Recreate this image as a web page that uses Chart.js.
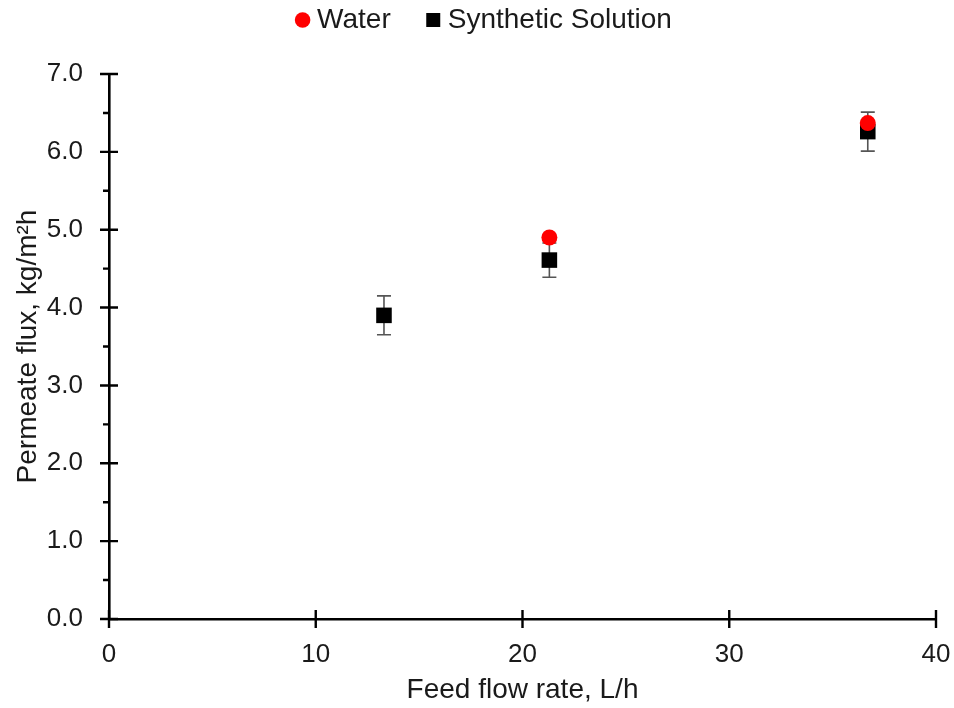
<!DOCTYPE html>
<html>
<head>
<meta charset="utf-8">
<script src="https://cdn.jsdelivr.net/npm/chart.js@4.4.1/dist/chart.umd.min.js"></script>
<style>
html,body{margin:0;padding:0;background:#fff;}
#wrap{width:954px;height:708px;}
</style>
</head>
<body>
<div id="wrap"><canvas id="c" width="954" height="708"></canvas></div>
<script>
// Data
const waterX = [21.3, 36.7];
const waterY = [4.90, 6.37];
const synthX = [13.3, 21.3, 36.7];
const synthY = [3.90, 4.61, 6.26];
const synthErr = [0.25, 0.22, 0.25];
const xTicks = [0, 10, 20, 30, 40];
const yTicks = [0, 1, 2, 3, 4, 5, 6, 7];
const yMinorTicks = [0.5, 1.5, 2.5, 3.5, 4.5, 5.5, 6.5];

const FONT = 'Liberation Sans, Arial, sans-serif';
const TXT = '#1a1a1a';
const LEGEND_H = 74;
const LEGEND_TOP = -36;
const LEGEND_DX = 10;

const errorBarPlugin = {
  id: 'errorBars',
  beforeDatasetsDraw(chart) {
    const ctx = chart.ctx;
    const xs = chart.scales.x, ys = chart.scales.y;
    ctx.save();
    ctx.strokeStyle = '#555';
    ctx.lineWidth = 1.6;
    synthX.forEach((xv, i) => {
      const px = xs.getPixelForValue(xv);
      const top = ys.getPixelForValue(synthY[i] + synthErr[i]);
      const bot = ys.getPixelForValue(synthY[i] - synthErr[i]);
      ctx.beginPath();
      ctx.moveTo(px, top); ctx.lineTo(px, bot);
      ctx.moveTo(px - 7, top); ctx.lineTo(px + 7, top);
      ctx.moveTo(px - 7, bot); ctx.lineTo(px + 7, bot);
      ctx.stroke();
    });
    ctx.restore();
  }
};

const tickPlugin = {
  id: 'tickMarks',
  afterDraw(chart) {
    const ctx = chart.ctx;
    const xs = chart.scales.x, ys = chart.scales.y;
    const a = chart.chartArea;
    ctx.save();
    ctx.strokeStyle = '#000';
    ctx.lineWidth = 2.4;
    ctx.beginPath();
    yTicks.forEach(v => {
      const py = ys.getPixelForValue(v);
      ctx.moveTo(a.left - 9, py); ctx.lineTo(a.left + 9, py);
    });
    yMinorTicks.forEach(v => {
      const py = ys.getPixelForValue(v);
      ctx.moveTo(a.left - 6, py); ctx.lineTo(a.left, py);
    });
    xTicks.forEach(v => {
      const px = xs.getPixelForValue(v);
      ctx.moveTo(px, a.bottom - 9); ctx.lineTo(px, a.bottom + 9);
    });
    ctx.stroke();
    ctx.restore();
  }
};

const legendFix = {
  id: 'legendFix',
  beforeLayout(chart) {
    const lg = chart.legend;
    if (lg && !lg._patched) {
      const f = lg.fit;
      lg.fit = function () { f.call(this); this.height = LEGEND_H; };
      lg._patched = true;
    }
  },
  afterLayout(chart) {
    const lg = chart.legend;
    if (lg) {
      lg.top = LEGEND_TOP; lg.bottom = lg.top + lg.height;
      lg.left += LEGEND_DX; lg.right += LEGEND_DX;
    }
  }
};

new Chart(document.getElementById('c'), {
  type: 'scatter',
  data: {
    datasets: [
      {
        label: 'Water',
        data: waterX.map((x, i) => ({x, y: waterY[i]})),
        pointStyle: 'circle',
        pointRadius: 8,
        pointHoverRadius: 8,
        backgroundColor: '#ff0000',
        borderColor: '#ff0000',
        borderWidth: 0
      },
      {
        label: 'Synthetic Solution',
        data: synthX.map((x, i) => ({x, y: synthY[i]})),
        pointStyle: 'rect',
        pointRadius: 11,
        pointHoverRadius: 11,
        backgroundColor: '#000',
        borderColor: '#000',
        borderWidth: 0
      }
    ]
  },
  options: {
    responsive: false,
    animation: false,
    events: [],
    layout: { padding: { top: 0, right: 0, left: 0, bottom: 0 } },
    plugins: {
      tooltip: { enabled: false },
      legend: {
        position: 'top',
        labels: {
          usePointStyle: true,
          boxWidth: 1,
          boxHeight: 11,
          padding: 42,
          color: TXT,
          font: { family: FONT, size: 28 },
          generateLabels(chart) {
            const items = Chart.defaults.plugins.legend.labels.generateLabels(chart);
            items.forEach((it, i) => {
              if (i === 1) { it.lineWidth = 3; it.strokeStyle = '#000'; }
              else { it.lineWidth = 0; }
            });
            return items;
          }
        }
      }
    },
    scales: {
      x: {
        type: 'linear',
        min: 0, max: 40,
        afterFit: s => { s.height = 89; s.paddingRight = 18; s.paddingLeft = 0; },
        afterBuildTicks: s => { s.ticks = xTicks.map(v => ({value: v})); },
        grid: { display: false, drawTicks: false },
        border: { display: true, color: '#000', width: 2.6 },
        ticks: { color: TXT, font: { family: FONT, size: 26 }, padding: 20 },
        title: {
          display: true, text: 'Feed flow rate, L/h', color: TXT,
          font: { family: FONT, size: 28 }, padding: { top: 0, bottom: 1 }
        }
      },
      y: {
        type: 'linear',
        min: 0, max: 7,
        afterFit: s => { s.width = 109; },
        afterBuildTicks: s => { s.ticks = yTicks.map(v => ({value: v})); },
        grid: { display: false, drawTicks: false },
        border: { display: true, color: '#000', width: 2.6 },
        ticks: { color: TXT, font: { family: FONT, size: 26 }, padding: 26,
                 callback: v => Number(v).toFixed(1) },
        title: {
          display: true, text: 'Permeate flux, kg/m²h', color: TXT,
          font: { family: FONT, size: 28 }, padding: { top: 11, bottom: 0 }
        }
      }
    }
  },
  plugins: [errorBarPlugin, tickPlugin, legendFix]
});
</script>
</body>
</html>
